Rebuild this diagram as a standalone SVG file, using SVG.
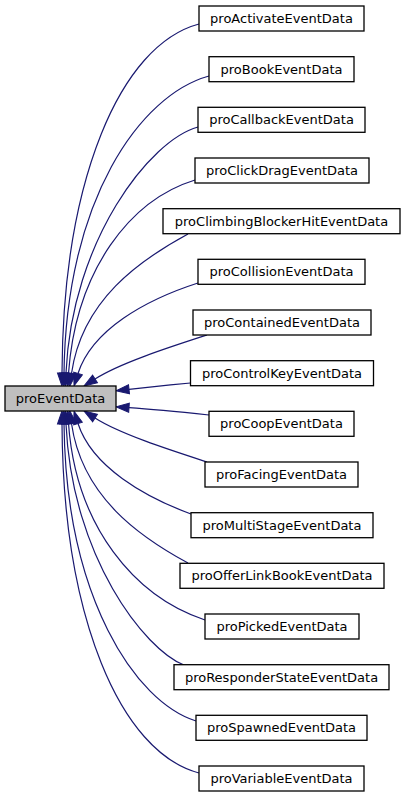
<svg xmlns="http://www.w3.org/2000/svg" width="405" height="797" viewBox="0 0 405 797">
<defs>
<style>
.n rect{fill:#ffffff;stroke:#000000;stroke-width:1.3}
.m rect{fill:#bfbfbf;stroke:#000000;stroke-width:1.3}
text{font-family:"DejaVu Sans","Liberation Sans",sans-serif;font-size:13px;fill:#000000;text-anchor:middle}
.e path{fill:none;stroke:#191970;stroke-width:1.2;marker-end:url(#ah)}
</style>
<marker id="ah" markerUnits="userSpaceOnUse" markerWidth="14" markerHeight="10" refX="0" refY="4.5" orient="auto" overflow="visible">
<path d="M0,0 L13,4.5 L0,9 z" fill="#191970" stroke="#191970" stroke-width="1"/>
</marker>
</defs>
<rect width="405" height="797" fill="#ffffff"/>
<g id="edges" class="e">
<path d="M199,24 C120,45 63,180 62,373"/>
<path d="M209,76 C140,95 66,200 64,373"/>
<path d="M198,127 C150,140 72,240 66,373"/>
<path d="M195,180 C130,200 76,270 68.5,373.5"/>
<path d="M188,234 C140,260 82,300 71.5,373.5"/>
<path d="M198,283 C145,300 92,330 78,373.5"/>
<path d="M207,335 C170,347 120,363 95,379"/>
<path d="M190.5,383 C170,385 150,387 129,389.3"/>
<path d="M209,415 C180,412 155,409.5 129,407.7"/>
<path d="M207,462 C170,450 120,434 95,418"/>
<path d="M191,514 C145,497 92,467 78,423.5"/>
<path d="M188,563 C140,537 82,497 71.5,423.5"/>
<path d="M205,620 C135,597 76,527 68.5,423.5"/>
<path d="M184,665 C145,650 72,557 66,424"/>
<path d="M196,721 C135,702 66,597 64,424"/>
<path d="M199,773 C120,752 63,617 62,424"/>
</g>
<g id="proEventData" class="m"><rect x="5" y="386" width="111" height="25"/><text x="60.5" y="403">proEventData</text></g>
<g id="proActivateEventData" class="n"><rect x="199" y="6" width="165" height="25"/><text x="281.5" y="23">proActivateEventData</text></g>
<g id="proBookEventData" class="n"><rect x="209" y="56.7" width="145" height="25"/><text x="281.5" y="73.7">proBookEventData</text></g>
<g id="proCallbackEventData" class="n"><rect x="198" y="107.3" width="167" height="25"/><text x="281.5" y="124.3">proCallbackEventData</text></g>
<g id="proClickDragEventData" class="n"><rect x="195" y="158" width="174" height="25"/><text x="282" y="175">proClickDragEventData</text></g>
<g id="proClimbingBlockerHitEventData" class="n"><rect x="163" y="208.7" width="237" height="25"/><text x="281.5" y="225.7">proClimbingBlockerHitEventData</text></g>
<g id="proCollisionEventData" class="n"><rect x="198" y="259.3" width="167" height="25"/><text x="281.5" y="276.3">proCollisionEventData</text></g>
<g id="proContainedEventData" class="n"><rect x="193" y="310" width="178" height="25"/><text x="282" y="327">proContainedEventData</text></g>
<g id="proControlKeyEventData" class="n"><rect x="190.5" y="360.7" width="183" height="25"/><text x="282" y="377.7">proControlKeyEventData</text></g>
<g id="proCoopEventData" class="n"><rect x="209" y="411.3" width="145" height="25"/><text x="281.5" y="428.3">proCoopEventData</text></g>
<g id="proFacingEventData" class="n"><rect x="205" y="462" width="153" height="25"/><text x="281.5" y="479">proFacingEventData</text></g>
<g id="proMultiStageEventData" class="n"><rect x="191" y="512.7" width="182" height="25"/><text x="282" y="529.7">proMultiStageEventData</text></g>
<g id="proOfferLinkBookEventData" class="n"><rect x="180" y="563.3" width="204" height="25"/><text x="282" y="580.3">proOfferLinkBookEventData</text></g>
<g id="proPickedEventData" class="n"><rect x="205" y="614" width="154" height="25"/><text x="282" y="631">proPickedEventData</text></g>
<g id="proResponderStateEventData" class="n"><rect x="174" y="664.7" width="215" height="25"/><text x="281.5" y="681.7">proResponderStateEventData</text></g>
<g id="proSpawnedEventData" class="n"><rect x="196" y="715.3" width="171" height="25"/><text x="281.5" y="732.3">proSpawnedEventData</text></g>
<g id="proVariableEventData" class="n"><rect x="199" y="766" width="165" height="25"/><text x="281.5" y="783">proVariableEventData</text></g>
</svg>
